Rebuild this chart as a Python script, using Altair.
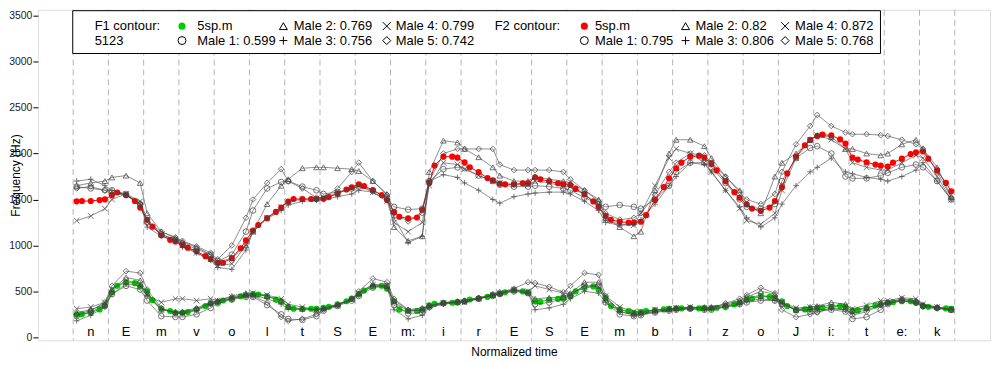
import altair as alt
import pandas as pd

# ---------------- data ----------------
segments = ["n", "E", "m", "v", "o", "l", "t", "S", "E", "m:", "i", "r", "E", "S", "E",
            "m", "b", "i", "z", "o", "J", "i:", "t", "e:", "k"]
frac_ref = [0.1, 0.25, 0.5, 0.75, 0.9]
frac_male = [0.1, 0.5, 0.9]
y_ticks = [0, 500, 1000, 1500, 2000, 2500, 3000, 3500]

ref_name = "5sp.m"
f1_code = "5123"
speakers = ["Male 1", "Male 2", "Male 3", "Male 4", "Male 5"]
f1_scores = [0.599, 0.769, 0.756, 0.799, 0.742]
f2_scores = [0.795, 0.82, 0.806, 0.872, 0.768]

ref_f1 = [245, 251, 268, 304, 347, 490, 561, 597, 590, 554, 500, 404, 311, 286, 268,
          268, 275, 304, 340, 369, 383, 401, 418, 447, 458, 472, 465, 447, 412, 393,
          332, 311, 311, 311, 311, 322, 332, 358, 393, 422, 470, 510, 554, 561, 529,
          393, 304, 286, 286, 304, 347, 365, 376, 376, 383, 393, 412, 422, 440, 458,
          476, 490, 511, 500, 490, 393, 386, 412, 418, 429, 447, 500, 536, 554, 518,
          429, 340, 304, 286, 268, 275, 286, 297, 304, 311, 315, 315, 322, 315, 315,
          315, 322, 340, 358, 376, 412, 422, 447, 440, 429, 393, 340, 293, 304, 311,
          322, 322, 332, 340, 332, 286, 293, 322, 347, 365, 376, 383, 393, 393, 376,
          340, 332, 322, 315, 311]
ref_f2 = [1480, 1483, 1483, 1494, 1501, 1547, 1576, 1547, 1483, 1412, 1279, 1204, 1111, 1061, 1044,
          1004, 976, 937, 883, 851, 811, 811, 862, 969, 1055, 1162, 1222, 1297, 1365, 1412,
          1476, 1505, 1505, 1505, 1505, 1508, 1526, 1565, 1608, 1633, 1666, 1647, 1601, 1548, 1494,
          1365, 1312, 1294, 1304, 1387, 1680, 1869, 1966, 1966, 1955, 1905, 1851, 1798, 1733, 1708,
          1672, 1665, 1665, 1676, 1676, 1741, 1719, 1698, 1676, 1665, 1658, 1615, 1558, 1479, 1419,
          1323, 1280, 1258, 1248, 1248, 1258, 1329, 1494, 1634, 1730, 1840, 1901, 1966, 1977, 1955,
          1887, 1816, 1698, 1580, 1519, 1447, 1401, 1376, 1412, 1483, 1634, 1784, 1966, 2090, 2148,
          2191, 2205, 2197, 2154, 2108, 1955, 1934, 1905, 1880, 1869, 1858, 1901, 1944, 1995, 2012,
          2022, 1944, 1816, 1680, 1590]

male1_f1 = [230, 280, 340, 470, 560, 520, 400, 230, 222, 222, 250, 320, 370, 410, 440,
            440, 350, 250, 200, 190, 230, 290, 340, 400, 450, 540, 560, 350, 260, 270,
            330, 370, 380, 390, 420, 450, 470, 500, 480, 360, 380, 420, 460, 560, 560,
            380, 250, 230, 240, 270, 290, 300, 310, 300, 300, 330, 360, 380, 400, 400,
            370, 300, 280, 280, 300, 280, 200, 220, 300, 360, 400, 380, 340, 320, 300]
male2_f1 = [270, 300, 360, 520, 650, 620, 480, 300, 280, 280, 320, 380, 400, 450, 480,
            470, 450, 400, 330, 310, 300, 320, 360, 420, 480, 580, 560, 400, 300, 320,
            350, 380, 390, 400, 430, 460, 480, 520, 490, 420, 430, 440, 480, 600, 600,
            420, 300, 260, 270, 290, 310, 320, 320, 330, 330, 360, 400, 440, 500, 470,
            360, 300, 330, 340, 380, 360, 300, 320, 360, 380, 410, 400, 350, 330, 300]
male3_f1 = [180, 240, 330, 470, 580, 560, 450, 300, 270, 260, 290, 360, 380, 420, 450,
            460, 420, 360, 310, 300, 300, 310, 350, 420, 460, 560, 540, 300, 200, 240,
            320, 360, 380, 390, 420, 460, 470, 510, 480, 300, 320, 360, 420, 500, 480,
            380, 280, 250, 260, 280, 300, 300, 310, 300, 310, 330, 360, 390, 420, 400,
            370, 300, 300, 300, 310, 300, 260, 300, 350, 370, 400, 370, 330, 310, 300]
male4_f1 = [310, 330, 380, 520, 620, 580, 460, 380, 420, 420, 400, 420, 400, 440, 460,
            480, 460, 420, 360, 330, 300, 310, 350, 410, 480, 570, 560, 380, 290, 300,
            340, 370, 380, 380, 420, 460, 480, 520, 500, 560, 520, 480, 470, 560, 550,
            450, 330, 280, 280, 300, 310, 320, 330, 320, 320, 350, 380, 420, 460, 430,
            380, 320, 330, 330, 350, 340, 310, 350, 400, 400, 430, 420, 360, 330, 310]
male5_f1 = [250, 290, 380, 560, 720, 700, 520, 320, 260, 270, 310, 370, 390, 430, 460,
            450, 380, 220, 180, 200, 250, 300, 350, 420, 500, 640, 600, 420, 300, 290,
            340, 370, 390, 400, 430, 470, 490, 530, 600, 590, 550, 490, 560, 700, 680,
            450, 280, 240, 250, 280, 300, 310, 320, 320, 320, 370, 420, 460, 540, 480,
            300, 220, 250, 270, 320, 300, 240, 280, 350, 380, 420, 390, 350, 320, 300]

male1_f2 = [1640, 1620, 1600, 1600, 1560, 1450, 1250, 1120, 1060, 1020, 960, 900, 830, 900, 1150,
            1380, 1620, 1690, 1700, 1640, 1600, 1560, 1580, 1620, 1640, 1600, 1520, 1420, 1390, 1400,
            1700, 1830, 1850, 1840, 1760, 1700, 1660, 1640, 1640, 1650, 1640, 1620, 1600, 1520, 1450,
            1420, 1440, 1420, 1400, 1500, 1650, 1800, 1900, 1900, 1850, 1680, 1500, 1420, 1400, 1450,
            1700, 1950, 2060, 2080, 2000, 1750, 1730, 1730, 1760, 1790, 1850, 1880, 1850, 1700, 1500]
male2_f2 = [1650, 1680, 1700, 1740, 1760, 1680, 1350, 1150, 1080, 1040, 980, 900, 820, 860, 1000,
            1150, 1450, 1650, 1720, 1840, 1850, 1850, 1840, 1830, 1810, 1700, 1560, 1200, 1050, 1100,
            1800, 2140, 2120, 2050, 1960, 1850, 1760, 1700, 1700, 1750, 1720, 1700, 1680, 1600, 1500,
            1300, 1200, 1100, 1150, 1600, 2000, 2150, 2150, 2080, 1950, 1750, 1600, 1450, 1350, 1750,
            1900, 2000, 2150, 2200, 2180, 2050, 2050, 2000, 1980, 2000, 2100, 2150, 2050, 1850, 1530]
male3_f2 = [1700, 1720, 1650, 1600, 1550, 1450, 1200, 1100, 1050, 980, 920, 840, 760, 740, 950,
            1150, 1290, 1380, 1440, 1480, 1490, 1500, 1530, 1560, 1600, 1580, 1500, 1300, 1030, 1100,
            1700, 1770, 1740, 1680, 1600, 1500, 1460, 1530, 1560, 1570, 1580, 1580, 1560, 1480, 1380,
            1250, 1220, 1230, 1280, 1450, 1650, 1750, 1900, 1880, 1800, 1600, 1420, 1300, 1200, 1300,
            1450, 1650, 1800, 1850, 1950, 1800, 1780, 1740, 1720, 1700, 1750, 1820, 1900, 1700, 1500]
male4_f2 = [1270, 1320, 1400, 1500, 1560, 1480, 1280, 1120, 1060, 1000, 920, 850, 780, 800, 1000,
            1150, 1300, 1420, 1480, 1500, 1510, 1520, 1570, 1620, 1650, 1580, 1480, 1250, 1150, 1250,
            1650, 1900, 1880, 1830, 1760, 1700, 1680, 1660, 1660, 1700, 1680, 1640, 1640, 1550, 1440,
            1280, 1230, 1220, 1350, 1650, 1950, 2050, 2000, 1900, 1800, 1600, 1400, 1270, 1230, 1350,
            1600, 1950, 2150, 2200, 2150, 2050, 1900, 1850, 1820, 1820, 1900, 1980, 1950, 1750, 1500]
male5_f2 = [1620, 1640, 1600, 1560, 1550, 1450, 1250, 1150, 1090, 1050, 990, 920, 850, 1000, 1300,
            1500, 1680, 1830, 1700, 1620, 1520, 1520, 1620, 1800, 1900, 1700, 1550, 1350, 1260, 1350,
            1700, 2000, 2050, 2050, 2050, 2050, 1880, 1820, 1820, 1820, 1820, 1800, 1720, 1600, 1480,
            1350, 1280, 1300, 1350, 1550, 1800, 1900, 2000, 1980, 1900, 1750, 1580, 1500, 1450, 1560,
            1800, 2100, 2300, 2420, 2300, 2230, 2210, 2210, 2200, 2190, 2150, 2100, 2050, 1800, 1520]

male_f1 = [male1_f1, male2_f1, male3_f1, male4_f1, male5_f1]
male_f2 = [male1_f2, male2_f2, male3_f2, male4_f2, male5_f2]

# ---------------- layout ----------------
W, H = 956, 332
XDOM = [-1, len(segments) + 1]
YDOM = [-33, 3565]
FONT = "Liberation Sans"


def tx(px):
    return XDOM[0] + px / W * (XDOM[1] - XDOM[0])


def hy(py):
    return YDOM[1] - py / H * (YDOM[1] - YDOM[0])


# ---------------- tables ----------------
ref_rows = []
for formant, vals in (("F1", ref_f1), ("F2", ref_f2)):
    for i, v in enumerate(vals):
        seg, j = divmod(i, len(frac_ref))
        ref_rows.append(dict(t=seg + frac_ref[j], hz=v, series=f"{ref_name} {formant}"))
ref_df = pd.DataFrame(ref_rows)

male_rows = []
for s, f1, f2 in zip(speakers, male_f1, male_f2):
    for formant, vals in (("F1", f1), ("F2", f2)):
        for i, v in enumerate(vals):
            seg, j = divmod(i, len(frac_male))
            male_rows.append(dict(t=seg + frac_male[j], hz=v, speaker=s, key=f"{s} {formant}"))
male_df = pd.DataFrame(male_rows)

bound_df = pd.DataFrame({"b": list(range(len(segments) + 1))})
seg_df = pd.DataFrame({"t": [k + 0.5 for k in range(len(segments))], "hz": 60, "label": segments})

# legend layout (pixel positions inside the plot, converted to data space)
row_y = [16.5, 31]
box = dict(x0=tx(35), x1=tx(846), y0=hy(1), y1=hy(44))
legend_box_df = pd.DataFrame([box])
f1_cols = [(144.7, 160), (246.5, 257), (350.3, 359.3)]
f2_cols = [(548.7, 559.3), (650.3, 660.3), (750.3, 760.3)]

texts = [dict(t=tx(57), hz=hy(row_y[0]), text="F1 contour:"),
         dict(t=tx(57), hz=hy(row_y[1]), text=f1_code),
         dict(t=tx(458.7), hz=hy(row_y[0]), text="F2 contour:")]
sym_rows, dot_rows = [], []
for cols, scores, colr in ((f1_cols, f1_scores, "#00cd00"), (f2_cols, f2_scores, "#ff0000")):
    entries = [(ref_name, None)] + [(f"{s}: {sc}", s) for s, sc in zip(speakers, scores)]
    for idx, (lab, spk) in enumerate(entries):
        c, r = divmod(idx, 2)
        sx, txx = cols[c]
        texts.append(dict(t=tx(txx), hz=hy(row_y[r]), text=lab))
        if spk is None:
            dot_rows.append(dict(t=tx(sx), hz=hy(row_y[r]), col=colr))
        else:
            sym_rows.append(dict(t=tx(sx), hz=hy(row_y[r]), speaker=spk))
legend_text_df = pd.DataFrame(texts)
legend_sym_df = pd.DataFrame(sym_rows)
legend_dot_df = pd.DataFrame(dot_rows)

# ---------------- encodings ----------------
xs = alt.Scale(domain=XDOM, nice=False, zero=False)
ys = alt.Scale(domain=YDOM, nice=False, zero=False)
xaxis = alt.Axis(title="Normalized time", labels=False, ticks=False, domain=False, grid=False,
                 titleFontSize=12, titleFontWeight="normal", titleColor="black", titleFont=FONT,
                 titleY=15, titleBaseline="alphabetic")
yaxis = alt.Axis(values=y_ticks, format="d", grid=False, domain=False, tickColor="black", tickSize=5,
                 labelPadding=1, labelFontSize=10.5, labelColor="#222", labelFont=FONT,
                 title="Frequency (Hz)", titleFontSize=12, titleFontWeight="normal",
                 titleColor="black", titleFont=FONT, titleX=-22, titleY=H / 2, titleAngle=270,
                 titleBaseline="middle", titleAlign="center")


def X(f):
    return alt.X(f, type="quantitative", scale=xs, axis=xaxis)


def Y(f):
    return alt.Y(f, type="quantitative", scale=ys, axis=yaxis)


shape_scale = alt.Scale(domain=speakers,
                        range=["circle", "triangle-up", "M-1,0L1,0M0,-1L0,1",
                               "M-1,-1L1,1M-1,1L1,-1", "diamond"])
ref_color = alt.Scale(domain=[f"{ref_name} F1", f"{ref_name} F2"], range=["#00cd00", "#ff0000"])

rules = alt.Chart(bound_df).mark_rule(color="#b4b4b4", strokeDash=[6, 4], strokeWidth=1).encode(x=X("b"))

ref_lines = alt.Chart(ref_df).mark_line(strokeWidth=1).encode(
    x=X("t"), y=Y("hz"), color=alt.Color("series:N", scale=ref_color, legend=None), order="t:Q")
ref_pts = alt.Chart(ref_df).mark_circle(size=38, opacity=1).encode(
    x=X("t"), y=Y("hz"), color=alt.Color("series:N", scale=ref_color, legend=None))

male_lines = alt.Chart(male_df).mark_line(strokeWidth=1, color="#444", opacity=0.6).encode(
    x=X("t"), y=Y("hz"), detail="key:N", order="t:Q")
male_pts = alt.Chart(male_df).mark_point(filled=False, size=32, strokeWidth=1, color="#444",
                                         opacity=0.75).encode(
    x=X("t"), y=Y("hz"), shape=alt.Shape("speaker:N", scale=shape_scale, legend=None))

seg_labels = alt.Chart(seg_df).mark_text(fontSize=13, font=FONT, color="black", baseline="middle").encode(
    x=X("t"), y=Y("hz"), text="label:N")

leg_box = alt.Chart(legend_box_df).mark_rect(fill="white", stroke="black", strokeWidth=1).encode(
    x=X("x0"), x2="x1:Q", y=Y("y0"), y2="y1:Q")
leg_text = alt.Chart(legend_text_df).mark_text(fontSize=13, font=FONT, color="black", align="left",
                                               baseline="middle").encode(
    x=X("t"), y=Y("hz"), text="text:N")
leg_sym = alt.Chart(legend_sym_df).mark_point(filled=False, size=64, strokeWidth=1, color="black",
                                              opacity=1).encode(
    x=X("t"), y=Y("hz"), shape=alt.Shape("speaker:N", scale=shape_scale, legend=None))
leg_dot = alt.Chart(legend_dot_df).mark_circle(size=50, opacity=1).encode(
    x=X("t"), y=Y("hz"), color=alt.Color("col:N", scale=None))

chart = alt.layer(rules, ref_lines, ref_pts, male_lines, male_pts, seg_labels,
                  leg_box, leg_text, leg_sym, leg_dot).properties(
    width=W, height=H,
    autosize=alt.AutoSizeParams(type="none"),
    padding={"left": 30, "top": 1, "right": 2, "bottom": 17},
).configure_view(stroke="black", strokeWidth=1).configure(font=FONT)

chart.save("out.html", embed_options={"renderer": "svg", "actions": False})
